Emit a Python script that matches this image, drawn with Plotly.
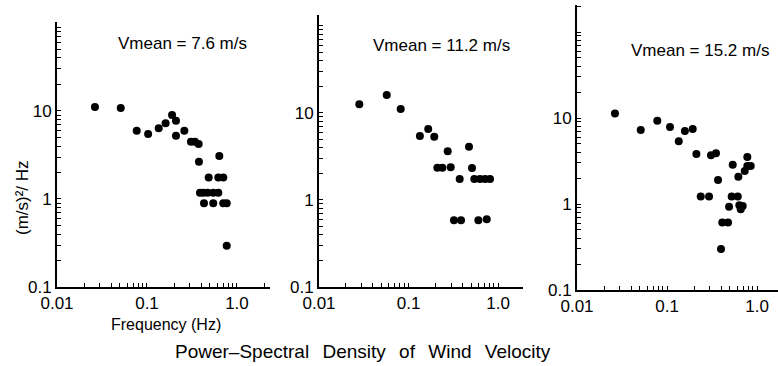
import plotly.graph_objects as go

# ---- data ----
f1 = [0.0264, 0.0511, 0.0769, 0.103, 0.135, 0.161, 0.190, 0.210, 0.210, 0.260,
      0.308, 0.341, 0.375, 0.378, 0.485, 0.636, 0.620, 0.704,
      0.388, 0.422, 0.472, 0.545, 0.620,
      0.430, 0.545, 0.704, 0.769, 0.769]
s1 = [11.1, 10.8, 5.97, 5.48, 6.36, 7.25, 9.0, 7.76, 5.24, 5.97,
      4.48, 4.48, 4.22, 2.65, 1.76, 3.08, 1.76, 1.76,
      1.18, 1.18, 1.18, 1.18, 1.18,
      0.894, 0.894, 0.894, 0.894, 0.294]

f2 = [0.0282, 0.0571, 0.0818, 0.134, 0.166, 0.194, 0.274, 0.474,
      0.210, 0.239, 0.296, 0.512,
      0.373, 0.543, 0.629, 0.716, 0.814,
      0.322, 0.386, 0.603, 0.748]
s2 = [12.6, 16.1, 11.1, 5.44, 6.55, 5.34, 3.63, 4.10,
      2.35, 2.35, 2.38, 2.33,
      1.74, 1.74, 1.74, 1.74, 1.74,
      0.585, 0.585, 0.585, 0.60]

f3 = [0.0264, 0.0511, 0.078, 0.108, 0.158, 0.193, 0.135, 0.212,
      0.308, 0.350, 0.537, 0.780, 0.780, 0.851, 0.730, 0.620, 0.369,
      0.237, 0.293, 0.523, 0.611,
      0.489, 0.636, 0.693, 0.659,
      0.411, 0.476, 0.398]
s3 = [11.3, 7.25, 9.3, 7.86, 7.06, 7.45, 5.36, 3.81,
      3.68, 3.89, 2.86, 3.52, 2.77, 2.77, 2.42, 2.08, 1.90,
      1.22, 1.22, 1.22, 1.22,
      0.93, 0.97, 0.95, 0.87,
      0.61, 0.61, 0.30]

labels = ["Vmean = 7.6 m/s", "Vmean = 11.2 m/s", "Vmean = 15.2 m/s"]

x_major = [0.01, 0.1, 1.0]
x_major_text = ["0.01", "0.1", "1.0"]
y_major = [0.1, 1, 10]
y_major_text = ["0.1", "1", "10"]

# ---- figure ----
FONT = "Liberation Sans Narrow, Liberation Sans, Arial, sans-serif"
W, H = 778, 366

def px(x):
    return x / W

def py(y):
    return 1 - y / H

fig = go.Figure()
series = [(f1, s1), (f2, s2), (f3, s3)]
for i, (f, s) in enumerate(series):
    fig.add_trace(go.Scatter(
        x=f, y=s, mode="markers",
        marker=dict(color="black", size=8, line=dict(width=0)),
        xaxis="x" if i == 0 else f"x{i+1}",
        yaxis="y" if i == 0 else f"y{i+1}",
        showlegend=False, hoverinfo="x+y"))

# minor tick positions (2..9 in each decade) + labelled majors
def log_ticks(lo_exp, hi_exp, majors, major_text):
    vals, txt = [], []
    for e in range(lo_exp, hi_exp + 1):
        for m in range(1, 10):
            v = round(m * 10.0 ** e, 6)
            vals.append(v)
            t = ""
            for mv, mt in zip(majors, major_text):
                if abs(mv - v) < 1e-9:
                    t = mt
            txt.append(t)
    return vals, txt

xv, xt = log_ticks(-2, 0, x_major, x_major_text)
yv, yt = log_ticks(-1, 2, y_major, y_major_text)

# panel geometry in pixels: (x0, x1, xmax_exp, ybottom, ytop, ymax_exp)
geo = [
    (57, 270, 0.367, 287, 22, 2.011),
    (319, 523, 0.279, 287, 15, 2.126),
    (577, 778, 0.233, 290, 5, 2.314),
]

axis_common = dict(
    type="log", showline=True, linecolor="black", linewidth=2,
    ticks="inside", ticklen=4, tickwidth=1, tickcolor="black",
    showgrid=False, zeroline=False, mirror=False, automargin=False,
    tickfont=dict(family=FONT, size=17, color="black"),
    tickmode="array",
)

layout_axes = {}
for i, (x0, x1, xmx, yb, yt_, ymx) in enumerate(geo):
    sx = "" if i == 0 else str(i + 1)
    layout_axes[f"xaxis{sx}"] = dict(
        axis_common, domain=[px(x0), min(px(x1), 1.0)], range=[-2, xmx],
        tickvals=xv, ticktext=xt, anchor=f"y{sx}")
    layout_axes[f"yaxis{sx}"] = dict(
        axis_common, domain=[py(yb), py(yt_)], range=[-1, ymx],
        tickvals=yv, ticktext=yt, anchor=f"x{sx}")

fig.update_layout(**layout_axes)

def note(x, y, text, size=17, angle=0):
    return dict(x=px(x), y=py(y), xref="paper", yref="paper",
                xanchor="center", yanchor="middle",
                text=text, textangle=angle, showarrow=False,
                font=dict(family=FONT, size=size, color="black"))

ann_pos = [(182, 43), (442, 45), (700, 50)]
annotations = [note(ax_, ay_, lab) for lab, (ax_, ay_) in zip(labels, ann_pos)]
annotations.append(note(22, 198, "(m/s)²/ Hz", angle=-90))
annotations.append(note(166, 324, "Frequency (Hz)", size=16))
annotations.append(note(363, 351,
                        "Power\u2013Spectral\u2002\u2009Density\u2002\u2009of\u2002\u2009Wind\u2002\u2009Velocity",
                        size=19))

fig.update_layout(
    width=W, height=H,
    margin=dict(l=0, r=0, t=0, b=0, autoexpand=False),
    paper_bgcolor="white", plot_bgcolor="white",
    annotations=annotations,
    font=dict(family=FONT, color="black"),
)

fig.write_html("out.html")
